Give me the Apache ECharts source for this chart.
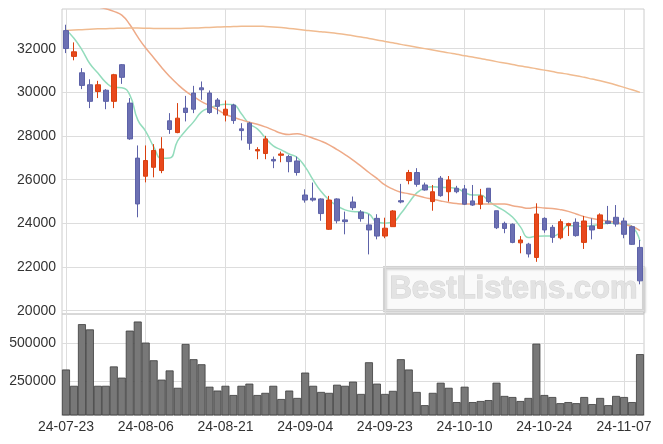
<!DOCTYPE html>
<html><head><meta charset="utf-8">
<script src="https://cdn.jsdelivr.net/npm/echarts@6/dist/echarts.min.js"></script>
<style>html,body{margin:0;padding:0;background:#fff}#c{width:663px;height:444px}</style>
</head><body><div id="c"></div>
<script>
const dates = ['24-07-23','24-07-24','24-07-25','24-07-26','24-07-29','24-07-30','24-07-31','24-08-01','24-08-02','24-08-05',
'24-08-06','24-08-07','24-08-08','24-08-09','24-08-12','24-08-13','24-08-14','24-08-16','24-08-19','24-08-20',
'24-08-21','24-08-22','24-08-23','24-08-26','24-08-27','24-08-28','24-08-29','24-08-30','24-09-02','24-09-03',
'24-09-04','24-09-05','24-09-06','24-09-09','24-09-10','24-09-11','24-09-12','24-09-13','24-09-19','24-09-20',
'24-09-23','24-09-24','24-09-25','24-09-26','24-09-27','24-09-30','24-10-02','24-10-04','24-10-07','24-10-08',
'24-10-10','24-10-11','24-10-14','24-10-15','24-10-16','24-10-17','24-10-18','24-10-21','24-10-22','24-10-23',
'24-10-24','24-10-25','24-10-28','24-10-29','24-10-30','24-10-31','24-11-01','24-11-04','24-11-05','24-11-06',
'24-11-07','24-11-08','24-11-11'];

const opens  = [32830,31650,30900,30350,30040,30100,29590,31270,29510,26990,
26160,26570,26420,28700,28160,29280,29970,30210,29970,29650,
28960,29420,28330,28590,27320,27200,26930,27120,27060,26860,
25300,25150,25120,23730,25120,24160,24980,24520,23930,24230,
23420,23850,25040,25960,26330,25760,25000,26070,25450,25610,
25580,25030,24880,25610,24580,24000,23960,23110,23050,22440,
24230,23820,23340,23910,24050,23130,23880,23770,24100,24280,
24110,23850,22900];
const closes = [32010,31860,30320,29590,30350,29590,30810,30690,27870,24890,
26880,27340,27410,28300,28820,29080,29230,30120,29080,29360,
29230,28710,28250,27670,27380,27870,26860,27180,26830,26330,
25070,25070,24450,25070,24120,24080,24720,24220,23700,23420,
23780,24570,24980,26330,25790,25530,25450,25270,25990,25450,
24880,24840,25260,25000,23800,23770,23130,23240,22600,24430,
23700,23360,24080,23990,23440,24110,23700,24390,24000,23970,
23500,23040,21370];
const lows   = [31800,31470,30150,29280,29740,29230,29280,30390,27830,24280,
25880,26110,26300,28100,28130,28670,29050,29660,29020,29000,
28670,28560,27800,27370,26940,26940,26530,26800,26340,26190,
24950,25000,24120,23700,24000,23500,24610,24080,22580,23270,
23320,23850,24920,25790,25680,25500,24580,25220,25000,25380,
24840,24800,24650,24920,23740,23550,23090,22630,22440,22240,
23570,23110,23270,23420,23390,22830,23270,23740,23960,23850,
23320,23010,21210];
const highs  = [33100,32290,31110,30600,30530,30150,30850,31300,29740,27570,
27570,27630,27950,29050,29510,29840,30300,30500,30090,29740,
29630,29480,28590,28650,27490,28010,27060,27290,27140,27060,
25560,25870,25150,25260,25150,24540,25230,24610,24420,24420,
24260,24610,25810,26450,26530,25870,25760,26170,26170,25720,
25760,25760,25580,25610,24580,24080,24000,23420,23110,24920,
24280,23930,24190,24030,24230,24340,24230,24460,24800,24840,
24260,23900,23240];

const volumes = [327000,221000,622000,588000,221000,221000,347000,274000,580000,639000,
502000,387000,261000,321000,208000,493000,394000,361000,215000,190000,
221000,161000,221000,235000,161000,175000,221000,135000,190000,142000,
307000,221000,181000,175000,228000,221000,248000,168000,374000,235000,
168000,188000,394000,327000,181000,95000,175000,241000,208000,115000,
215000,115000,122000,128000,241000,155000,148000,122000,142000,495000,
161000,148000,108000,115000,108000,148000,102000,142000,95000,155000,
148000,115000,427000];

const ma5 = [32870,32480,31950,31310,30890,30460,30230,30210,29890,28740,
28220,27510,26980,26990,27780,28240,28650,29110,29290,29400,
29460,29440,29020,28560,28330,27920,27550,27370,27180,27020,
26590,25990,25460,25070,24800,24620,24540,24520,24430,24060,
24010,24060,24450,24940,25400,25620,25680,25650,25640,25600,
25420,25300,25300,25030,24780,24570,24290,23840,23350,23410,
23420,23420,23580,23900,23880,23860,23900,23960,24010,24010,
23970,23860,23190];

const ma20 = [34300,34200,34100,34000,33920,33830,33710,33540,33110,32540,
32030,31590,31140,30730,30370,30060,29810,29580,29400,29210,
29000,28860,28740,28630,28540,28420,28270,28130,28070,28110,
28020,27900,27770,27600,27380,27150,26900,26620,26330,26060,
25760,25570,25430,25360,25280,25180,25110,25030,24960,24910,
24890,24890,24890,24890,24890,24890,24810,24750,24690,24740,
24700,24680,24630,24550,24430,24310,24220,24160,24110,24040,
23950,23860,23670];

const maLong = [32840,32860,32875,32890,32910,32920,32930,32940,32945,32945,
32940,32930,32925,32925,32930,32935,32945,32960,32975,32990,
33005,33015,33025,33030,33030,33020,33000,32970,32930,32890,
32850,32810,32775,32740,32700,32650,32600,32540,32470,32400,
32335,32270,32200,32135,32070,32005,31940,31875,31810,31750,
31680,31620,31555,31480,31410,31345,31280,31210,31150,31085,
31020,30955,30890,30830,30765,30690,30610,30530,30440,30340,
30230,30120,30000];

const priceTicks = [20000,22000,24000,26000,28000,30000,32000];
const volumeTicks = [250000,500000];

const chart = echarts.init(document.getElementById('c'), null, {renderer:'canvas'});
const candleData = dates.map((d,i)=>[opens[i], closes[i], lows[i], highs[i]]);
const gridLine = {color:'#dddddd', width:1};
const labelFont = {color:'#333', fontSize:14, fontFamily:'Liberation Sans', formatter:(v)=>String(v)};

const option = {
  animation:false,
  backgroundColor:'#ffffff',
  grid:[
    {left:62, right:19, top:9, height:305, show:true, borderColor:'#cccccc', borderWidth:1},
    {left:62, right:19, top:314, height:101, show:true, borderColor:'#cccccc', borderWidth:1}
  ],
  xAxis:[
    {type:'category', gridIndex:0, data:dates, boundaryGap:true,
     axisLine:{show:false}, axisTick:{show:false}, axisLabel:{show:false},
     splitLine:{show:true, interval:9, alignWithLabel:true, lineStyle:gridLine}},
    {type:'category', gridIndex:1, data:dates, boundaryGap:true,
     axisLine:{show:true, lineStyle:{color:'#cccccc'}}, axisTick:{show:false},
     axisLabel:Object.assign({interval:9, margin:5}, labelFont),
     splitLine:{show:true, interval:9, alignWithLabel:true, lineStyle:gridLine}}
  ],
  yAxis:[
    {type:'value', gridIndex:0, min:19850, max:33820, scale:true,
     axisLine:{show:false}, axisTick:{show:false, customValues:priceTicks},
     axisLabel:Object.assign({customValues:priceTicks, margin:6}, labelFont),
     splitLine:{show:true, lineStyle:gridLine}},
    {type:'value', gridIndex:1, min:31000, max:688000,
     axisLine:{show:false}, axisTick:{show:false, customValues:volumeTicks},
     axisLabel:Object.assign({customValues:volumeTicks, margin:6}, labelFont),
     splitLine:{show:true, lineStyle:gridLine}}
  ],
  graphic:[
    {type:'group', left:383, top:266, z:1, silent:true, children:[
      {type:'rect', shape:{x:0,y:0,width:259,height:43}, style:{fill:'rgba(255,255,255,0.15)', stroke:'#d2d2d2', lineWidth:3, shadowColor:'rgba(0,0,0,0.15)', shadowBlur:2, shadowOffsetX:1, shadowOffsetY:1}},
      {type:'text', x:129, y:22, style:{text:'BestListens.com', fill:'#e3e3e3', stroke:'#d3d3d3', lineWidth:1, font:'bold 31px "Liberation Sans", sans-serif', align:'center', verticalAlign:'middle'}}
    ]}
  ],
  series:[
    {type:'candlestick', name:'price', xAxisIndex:0, yAxisIndex:0, data:candleData, barWidth:5, z:5,
     itemStyle:{color:'#e8481c', color0:'#6c70b3', borderColor:'#d9400f', borderColor0:'#5d62a8', borderWidth:1}},
    {type:'line', name:'ma5', xAxisIndex:0, yAxisIndex:0, data:ma5, showSymbol:false, smooth:true, z:4,
     lineStyle:{color:'#93dcbc', width:1.5}},
    {type:'line', name:'ma20', xAxisIndex:0, yAxisIndex:0, data:ma20, showSymbol:false, smooth:true, z:4,
     lineStyle:{color:'#eeaa88', width:1.5}},
    {type:'line', name:'maLong', xAxisIndex:0, yAxisIndex:0, data:maLong, showSymbol:false, smooth:true, z:4,
     lineStyle:{color:'#f0bb90', width:1.5}},
    {type:'bar', name:'volume', xAxisIndex:1, yAxisIndex:1, data:volumes, barCategoryGap:'0%', z:3,
     itemStyle:{color:'#787878', borderColor:'#3c3c3c', borderWidth:0.8}}
  ]
};
chart.setOption(option);
</script>
</body></html>
